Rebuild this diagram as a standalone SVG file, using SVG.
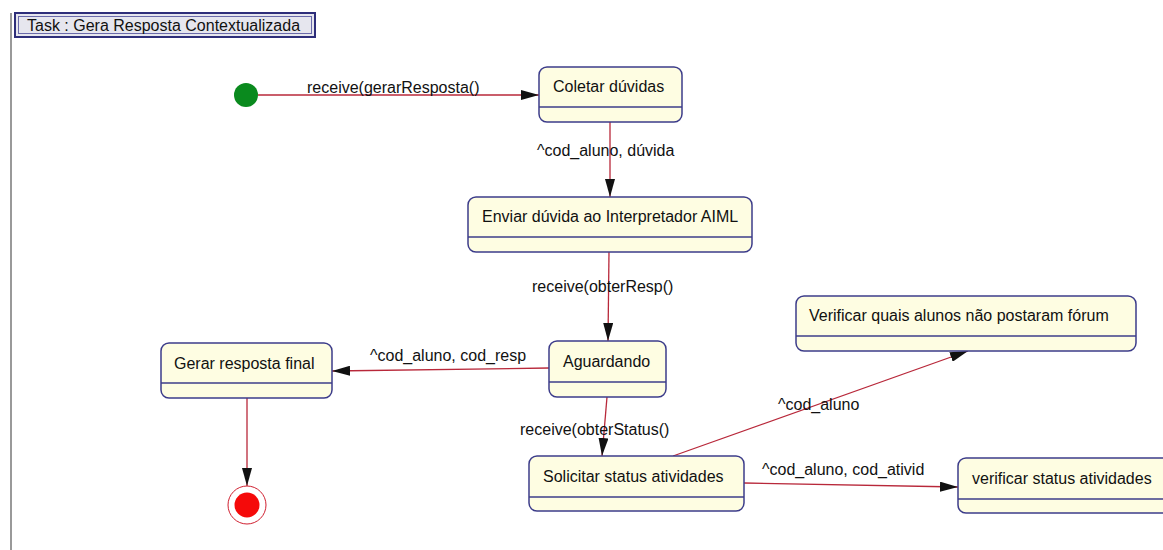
<svg xmlns="http://www.w3.org/2000/svg" width="1163" height="550" viewBox="0 0 1163 550">
  <style>
    text { font-family: "Liberation Sans", Arial, sans-serif; font-size: 16px; fill: #111; }
    .state rect { fill: #fefde2; stroke: #3c3c8a; stroke-width: 1.5; }
    .state line { stroke: #3c3c8a; stroke-width: 1.5; }
    .conn line { stroke: #b8283a; stroke-width: 1.3; fill: none; }
  </style>
  <defs>
    <marker id="arrow" viewBox="0 0 18 10" refX="18" refY="5" markerWidth="18" markerHeight="10" markerUnits="userSpaceOnUse" orient="auto">
      <path d="M0,0 L18,5 L0,10 Z" fill="#111"/>
    </marker>
  </defs>

  <rect width="1163" height="550" fill="#fff"/>
  <!-- frame edge -->
  <line x1="11" y1="13" x2="11" y2="550" stroke="#999" stroke-width="2"/>

  <!-- task title -->
  <g id="task-title">
    <rect x="15" y="13" width="300" height="24" fill="#e6e6ee" stroke="#2e2e7a" stroke-width="2"/>
    <rect x="18.5" y="16.5" width="293" height="17" fill="none" stroke="#6a6aaa" stroke-width="1"/>
    <text x="27" y="31">Task : Gera Resposta Contextualizada</text>
  </g>

  <!-- connectors -->
  <g id="connectors" class="conn">
    <line x1="258" y1="95" x2="539" y2="95" marker-end="url(#arrow)"/>
    <line x1="610" y1="122" x2="610" y2="197" marker-end="url(#arrow)"/>
    <line x1="609" y1="252" x2="608" y2="341" marker-end="url(#arrow)"/>
    <line x1="549" y1="368" x2="332" y2="371" marker-end="url(#arrow)"/>
    <line x1="247" y1="398" x2="247" y2="486" marker-end="url(#arrow)"/>
    <line x1="607" y1="397" x2="602" y2="456" marker-end="url(#arrow)"/>
    <line x1="673" y1="456" x2="968" y2="351" marker-end="url(#arrow)"/>
    <line x1="744" y1="483" x2="958" y2="487" marker-end="url(#arrow)"/>
    <text x="307" y="93">receive(gerarResposta()</text>
    <text x="537" y="156">^cod_aluno, dúvida</text>
    <text x="532" y="292">receive(obterResp()</text>
    <text x="370" y="361">^cod_aluno, cod_resp</text>
    <text x="520" y="435">receive(obterStatus()</text>
    <text x="778" y="410">^cod_aluno</text>
    <text x="762" y="475">^cod_aluno, cod_ativid</text>
  </g>

  <!-- initial state -->
  <g id="initial">
    <circle cx="246" cy="95" r="12" fill="#0a8a1e"/>
  </g>

  <!-- final state -->
  <g id="final">
    <circle cx="247" cy="505" r="19" fill="#fff" stroke="#d02030" stroke-width="1"/>
    <circle cx="247" cy="505" r="12.5" fill="#f50a0a"/>
  </g>

  <g id="coletar" class="state">
    <rect x="539" y="67" width="143" height="55" rx="8"/>
    <line x1="539" y1="107" x2="682" y2="107"/>
    <text x="553" y="92">Coletar dúvidas</text>
  </g>

  <g id="enviar" class="state">
    <rect x="468" y="197" width="284" height="55" rx="8"/>
    <line x1="468" y1="237" x2="752" y2="237"/>
    <text x="482" y="222">Enviar dúvida ao Interpretador AIML</text>
  </g>

  <g id="aguardando" class="state">
    <rect x="549" y="341" width="117" height="56" rx="8"/>
    <line x1="549" y1="382" x2="666" y2="382"/>
    <text x="563" y="367">Aguardando</text>
  </g>

  <g id="gerar" class="state">
    <rect x="161" y="343" width="171" height="55" rx="8"/>
    <line x1="161" y1="383" x2="332" y2="383"/>
    <text x="174" y="369">Gerar resposta final</text>
  </g>

  <g id="verificar-forum" class="state">
    <rect x="796" y="296" width="340" height="55" rx="8"/>
    <line x1="796" y1="336" x2="1136" y2="336"/>
    <text x="809" y="321">Verificar quais alunos não postaram fórum</text>
  </g>

  <g id="solicitar" class="state">
    <rect x="529" y="456" width="215" height="55" rx="8"/>
    <line x1="529" y1="497" x2="744" y2="497"/>
    <text x="543" y="482">Solicitar status atividades</text>
  </g>

  <g id="verificar-status" class="state">
    <rect x="958" y="458" width="215" height="55" rx="8"/>
    <line x1="958" y1="499" x2="1173" y2="499"/>
    <text x="972" y="484">verificar status atividades</text>
  </g>
</svg>
